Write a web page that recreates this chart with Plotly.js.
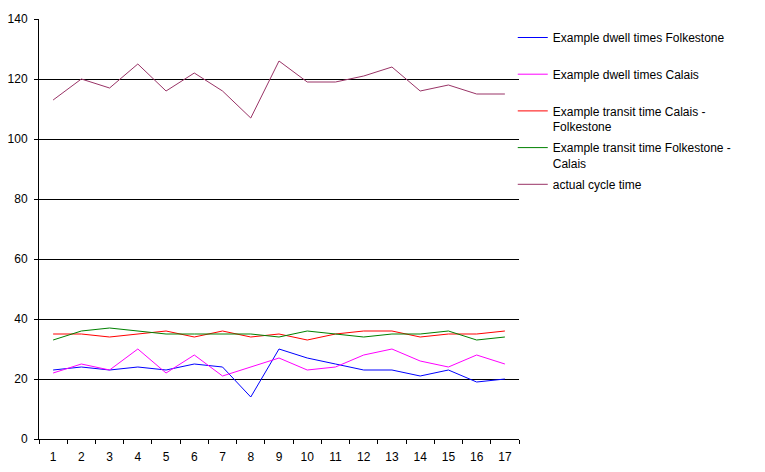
<!DOCTYPE html>
<html>
<head>
<meta charset="utf-8">
<script src="https://cdn.plot.ly/plotly-3.0.1.min.js"></script>
<style>html,body{margin:0;padding:0;background:#fff;}#chart{width:765px;height:472px;}
.shapelayer path{shape-rendering:crispEdges;}</style>
</head>
<body>
<div id="chart"></div>
<script>
var categories = ["1","2","3","4","5","6","7","8","9","10","11","12","13","14","15","16","17"];
var dwellFolkestone = [23,24,23,24,23,25,24,14,30,27,25,23,23,21,23,19,20];
var dwellCalais = [22,25,23,30,22,28,21,24,27,23,24,28,30,26,24,28,25];
var transitCalaisFolkestone = [35,35,34,35,36,34,36,34,35,33,35,36,36,34,35,35,36];
var transitFolkestoneCalais = [33,36,37,36,35,35,35,35,34,36,35,34,35,35,36,33,34];
var cycleTime = [113,120,117,125,116,122,116,107,126,119,119,121,124,116,118,115,115];
var seriesNames = [
  "Example dwell times Folkestone<br> ",
  "Example dwell times Calais<br> ",
  "Example transit time Calais -<br>Folkestone",
  "Example transit time Folkestone -<br>Calais",
  "actual cycle time<br> "
];
var seriesColors = ["#0000FF","#FF00FF","#FF0000","#008000","#993366"];
var gridVals = [20,40,60,80,100,120];
var yTicks = [0,20,40,60,80,100,120,140];

var seriesData = [dwellFolkestone, dwellCalais, transitCalaisFolkestone, transitFolkestoneCalais, cycleTime];
var traces = seriesData.map(function(d,i){
  return {x: categories, y: d, type: 'scatter', mode: 'lines', name: seriesNames[i],
          legendgroup: 'g' + i,
          line: {color: seriesColors[i], width: 1}, hoverinfo: 'skip'};
});

var shapes = gridVals.map(function(v){
  return {type:'line', xref:'paper', yref:'y', x0:0, x1:1, y0:v, y1:v, layer:'below',
          line:{color:'#000000', width:1}};
});

var layout = {
  width: 765, height: 472,
  margin: {l: 39, r: 246, t: 19, b: 33},
  paper_bgcolor: '#FFFFFF', plot_bgcolor: '#FFFFFF',
  font: {family: 'Arial, "Liberation Sans", sans-serif', size: 12, color: '#000000'},
  showlegend: true,
  legend: {x: 0.987, xanchor: 'left', y: 0.99, yanchor: 'top', valign: 'top',
           font: {size: 12, color: '#000000'}, bgcolor: 'rgba(0,0,0,0)', borderwidth: 0,
           tracegroupgap: 2.5},
  xaxis: {type: 'category', range: [-0.5, 16.5], tickson: 'boundaries', ticks: 'outside', ticklen: 4, tickcolor: '#000',
          showgrid: false, showline: true, linecolor: '#000', linewidth: 1, zeroline: false,
          ticklabelstandoff: 7, tickfont: {size: 12}, fixedrange: true},
  yaxis: {range: [0,140], tickvals: yTicks, ticktext: yTicks.map(String), ticks: 'outside', ticklen: 4,
          tickcolor: '#000', showgrid: false, showline: true, linecolor: '#000', linewidth: 1,
          zeroline: false, ticklabelstandoff: 4, tickfont: {size: 12}, fixedrange: true},
  shapes: shapes
};

Plotly.newPlot('chart', traces, layout, {staticPlot: true, displayModeBar: false});
</script>
</body>
</html>
